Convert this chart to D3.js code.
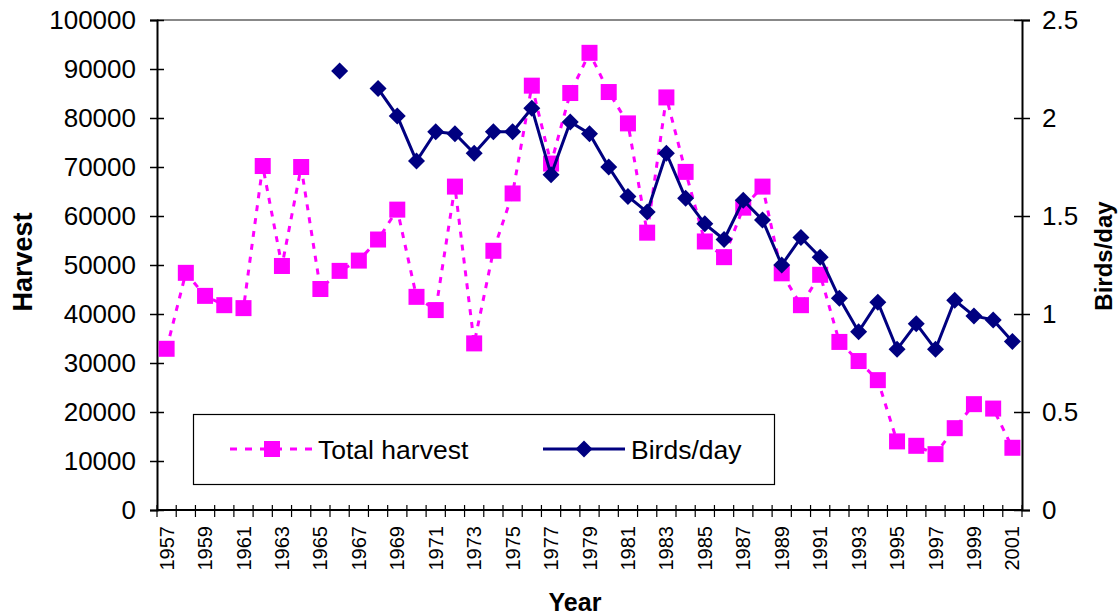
<!DOCTYPE html>
<html>
<head>
<meta charset="utf-8">
<script src="https://cdn.jsdelivr.net/npm/d3@7"></script>
<style>
  body { margin: 0; background: #fff; }
  svg { font-family: "Liberation Sans", Arial, sans-serif; }
</style>
</head>
<body>
<div id="chart"></div>
<script>
var width = 1120;
var height = 615;
var margin = {top: 20, right: 98, bottom: 105, left: 157};

var years = d3.range(1957, 2002);

// Total harvest (left axis)
var harvest = [32900, 48400, 43700, 41800, 41200, 70200, 49800, 70000, 45100, 48800,
               50900, 55200, 61300, 43500, 40800, 66000, 34000, 52900, 64600, 86600,
               70700, 85100, 93300, 85300, 78900, 56600, 84200, 69000, 54800, 51600,
               61700, 66000, 48300, 41800, 48000, 34300, 30400, 26500, 14000, 13100,
               11400, 16700, 21600, 20700, 12700];

// Birds/day (right axis), null where no value
var birds = [null, null, null, null, null, null, null, null, null, 2.24,
             null, 2.15, 2.01, 1.78, 1.93, 1.92, 1.82, 1.93, 1.93, 2.05,
             1.71, 1.98, 1.92, 1.75, 1.60, 1.52, 1.82, 1.59, 1.46, 1.38,
             1.58, 1.48, 1.25, 1.39, 1.29, 1.08, 0.91, 1.06, 0.82, 0.95,
             0.82, 1.07, 0.99, 0.97, 0.86];

var leftTicks = d3.range(0, 100001, 10000);
var rightTicks = [0, 0.5, 1, 1.5, 2, 2.5];

var magenta = "#FF00FF";
var navy = "#000080";

var svg = d3.select("#chart")
    .append("svg")
    .attr("width", width)
    .attr("height", height);

var w = width - margin.left - margin.right;
var h = height - margin.top - margin.bottom;

var g = svg.append("g")
    .attr("transform", "translate(" + margin.left + "," + margin.top + ")");

var x = d3.scaleBand().domain(years).range([0, w]).padding(0);
var bw = x.bandwidth();
var cx = function(yr) { return x(yr) + bw / 2; };

var yL = d3.scaleLinear().domain([0, 100000]).range([h, 0]);
var yR = d3.scaleLinear().domain([0, 2.5]).range([h, 0]);

// top border
g.append("line")
    .attr("x1", 0).attr("x2", w)
    .attr("y1", 0).attr("y2", 0)
    .attr("stroke", "#888")
    .attr("stroke-width", 2);

// left axis
var axL = g.append("g")
    .call(d3.axisLeft(yL).tickValues(leftTicks).tickSize(7).tickPadding(14).tickFormat(d3.format("d")));
axL.select(".domain").attr("stroke", "#000").attr("stroke-width", 2);
axL.selectAll(".tick line").attr("x1", 7).attr("x2", -7).attr("stroke-width", 1.5);
axL.selectAll(".tick text").attr("font-size", 26).attr("fill", "#000")
    .attr("font-family", "Liberation Sans, Arial, sans-serif");

// right axis
var axR = g.append("g")
    .attr("transform", "translate(" + w + ",0)")
    .call(d3.axisRight(yR).tickValues(rightTicks).tickSize(8).tickPadding(12).tickFormat(function(d) { return d; }));
axR.select(".domain").attr("stroke", "#000").attr("stroke-width", 2);
axR.selectAll(".tick line").attr("x1", -8).attr("x2", 8).attr("stroke-width", 1.5);
axR.selectAll(".tick text").attr("font-size", 26).attr("fill", "#000")
    .attr("font-family", "Liberation Sans, Arial, sans-serif");

// bottom axis: ticks on band edges, labels every other year
var axB = g.append("g").attr("transform", "translate(0," + h + ")");
axB.append("line")
    .attr("x1", 0).attr("x2", w)
    .attr("stroke", "#000").attr("stroke-width", 2);
var edges = years.map(function(d) { return x(d); }).concat([w]);
axB.selectAll(".edge")
    .data(edges)
    .enter().append("line")
    .attr("class", "edge")
    .attr("x1", function(d) { return d; })
    .attr("x2", function(d) { return d; })
    .attr("y1", -5).attr("y2", 7)
    .attr("stroke", "#000").attr("stroke-width", 1.2);
axB.selectAll(".yl")
    .data(years.filter(function(d) { return (d - 1957) % 2 === 0; }))
    .enter().append("text")
    .attr("class", "yl")
    .attr("transform", function(d) { return "translate(" + (cx(d) + 7) + ",16) rotate(-90)"; })
    .attr("text-anchor", "end")
    .attr("font-size", 20)
    .text(function(d) { return d; });

// harvest series
var hData = years.map(function(yr, i) { return {yr: yr, v: harvest[i]}; });
g.append("path")
    .datum(hData)
    .attr("fill", "none")
    .attr("stroke", magenta)
    .attr("stroke-width", 3)
    .attr("stroke-dasharray", "6,7")
    .attr("d", d3.line().x(function(d) { return cx(d.yr); }).y(function(d) { return yL(d.v); }));
g.selectAll(".sq")
    .data(hData)
    .enter().append("rect")
    .attr("class", "sq")
    .attr("x", function(d) { return cx(d.yr) - 8; })
    .attr("y", function(d) { return yL(d.v) - 8; })
    .attr("width", 16).attr("height", 16)
    .attr("fill", magenta);

// birds/day series
var bData = years.map(function(yr, i) { return {yr: yr, v: birds[i]}; });
g.append("path")
    .datum(bData)
    .attr("fill", "none")
    .attr("stroke", navy)
    .attr("stroke-width", 3)
    .attr("d", d3.line()
        .defined(function(d) { return d.v != null; })
        .x(function(d) { return cx(d.yr); })
        .y(function(d) { return yR(d.v); }));
var diamond = "M0,-8.5L8.5,0L0,8.5L-8.5,0Z";
g.selectAll(".dm")
    .data(bData.filter(function(d) { return d.v != null; }))
    .enter().append("path")
    .attr("class", "dm")
    .attr("transform", function(d) { return "translate(" + cx(d.yr) + "," + yR(d.v) + ")"; })
    .attr("d", diamond)
    .attr("fill", navy);

// legend
var lg = svg.append("g");
lg.append("rect")
    .attr("x", 193.5).attr("y", 414.5)
    .attr("width", 581).attr("height", 70)
    .attr("fill", "#fff").attr("stroke", "#000").attr("stroke-width", 1.2);
lg.append("line")
    .attr("x1", 230).attr("x2", 313).attr("y1", 449).attr("y2", 449)
    .attr("stroke", magenta).attr("stroke-width", 3).attr("stroke-dasharray", "7,8");
lg.append("rect")
    .attr("x", 264).attr("y", 441).attr("width", 16).attr("height", 16)
    .attr("fill", magenta);
lg.append("text")
    .attr("x", 318).attr("y", 459)
    .attr("font-size", 26.5)
    .text("Total harvest");
lg.append("line")
    .attr("x1", 543).attr("x2", 625).attr("y1", 449).attr("y2", 449)
    .attr("stroke", navy).attr("stroke-width", 3);
lg.append("path")
    .attr("transform", "translate(584,449)")
    .attr("d", diamond)
    .attr("fill", navy);
lg.append("text")
    .attr("x", 631).attr("y", 459)
    .attr("font-size", 26.5)
    .text("Birds/day");

// axis titles
svg.append("text")
    .attr("transform", "translate(32,262) rotate(-90)")
    .attr("text-anchor", "middle")
    .attr("font-size", 27)
    .attr("font-weight", "bold")
    .text("Harvest");
svg.append("text")
    .attr("transform", "translate(1112,256) rotate(-90)")
    .attr("text-anchor", "middle")
    .attr("font-size", 24)
    .attr("font-weight", "bold")
    .text("Birds/day");
svg.append("text")
    .attr("x", 575).attr("y", 611)
    .attr("text-anchor", "middle")
    .attr("font-size", 25)
    .attr("font-weight", "bold")
    .text("Year");
</script>
</body>
</html>
